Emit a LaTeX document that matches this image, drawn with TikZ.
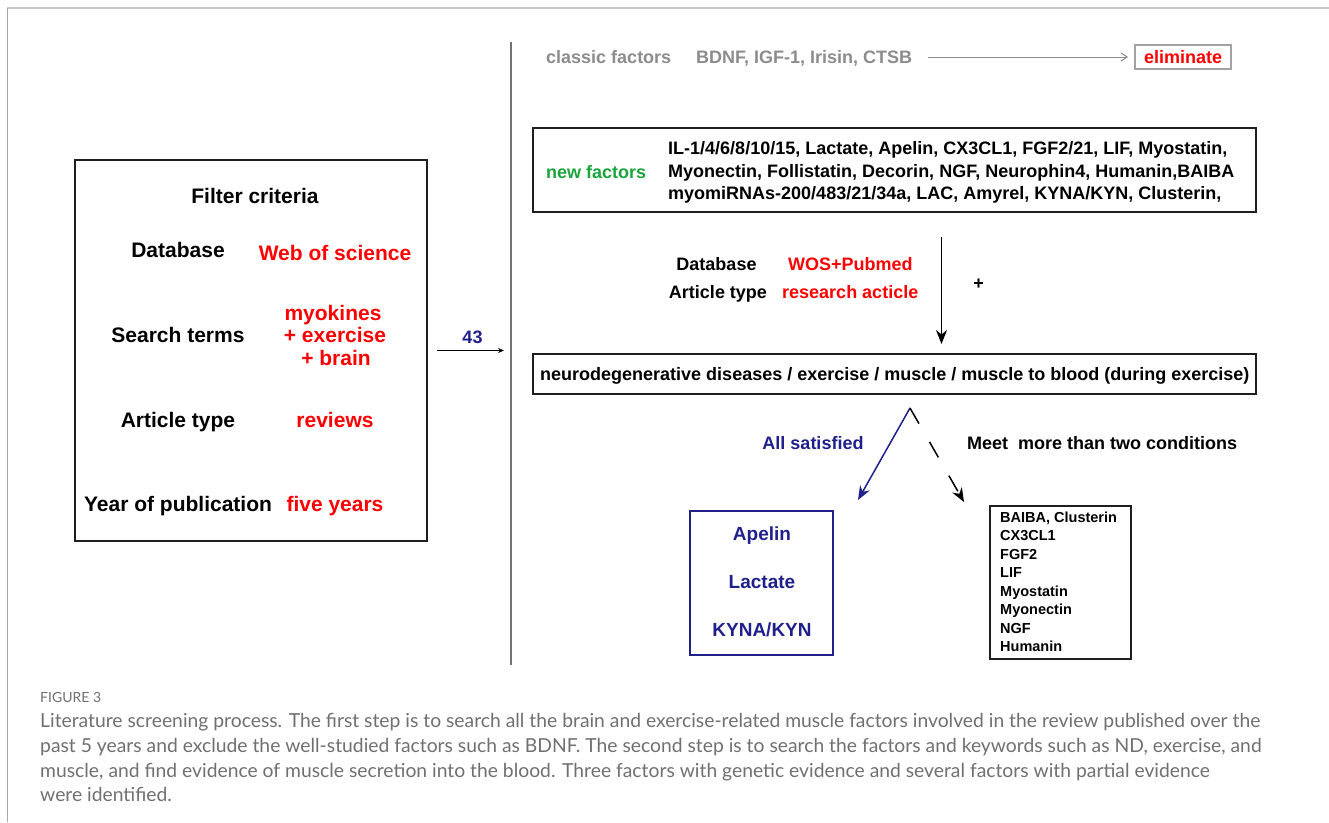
\documentclass[tikz,border=0pt]{standalone}
\usepackage{fontspec}
\setmainfont{Liberation Sans}
\newfontfamily\capfont{Lato}
\usetikzlibrary{arrows.meta}
\definecolor{fred}{RGB}{255,0,0}
\definecolor{fnavy}{RGB}{32,32,140}
\definecolor{fgreen}{RGB}{25,165,60}
\definecolor{fgray}{RGB}{140,140,140}
\definecolor{capgray}{RGB}{112,112,112}
\definecolor{framegray}{RGB}{200,200,200}
\tikzset{
  txbig/.style={inner sep=0pt, anchor=base, font=\fontsize{21}{25}\selectfont\bfseries},
  txmid/.style={inner sep=0pt, anchor=base, font=\fontsize{18}{22}\selectfont\bfseries},
  txsml/.style={inner sep=0pt, anchor=base west, font=\fontsize{14.5}{18}\selectfont\bfseries},
  txcap/.style={inner sep=0pt, anchor=base west, text=capgray, font=\capfont\fontsize{19.3}{22}\selectfont},
  boxk/.style={draw=black!88, line width=1.5pt, inner sep=0pt},
}
\begin{document}
\begin{tikzpicture}[x=1pt,y=-1pt]
\useasboundingbox (0,0) rectangle (1329,822);
\fill[white] (0,0) rectangle (1329,822);
% outer frame
\draw[framegray, line width=1.5pt] (7,8) -- (1329,8);
\draw[black!35, line width=1pt] (7,8) -- (7,822);

% left filter box
\node[boxk, minimum width=352pt, minimum height=381pt] (filter) at (251,350.5) {};
\node[txbig] (fc) at (255,203) {Filter criteria};
\node[txbig] (db) at (178,257) {Database};
\node[txbig, text=fred] (wos) at (335,260) {Web of science};
\node[txbig] (st) at (178,342) {Search terms};
\node[txbig, text=fred] (st1) at (333,320) {myokines};
\node[txbig, text=fred] (st2) at (335,342) {+ exercise};
\node[txbig, text=fred] (st3) at (336,365) {+ brain};
\node[txbig] (at) at (178,427) {Article type};
\node[txbig, text=fred] (rev) at (335,427) {reviews};
\node[txbig] (yp) at (178,511) {Year of publication};
\node[txbig, text=fred] (fy) at (335,511) {five years};

% 43 arrow
\coordinate (a43s) at (437,350.5);
\coordinate (a43e) at (504,350.5);
\draw[-{Stealth[length=6pt,width=5pt]}, line width=0.8pt] (a43s) -- (a43e);
\node[txmid, text=fnavy] (n43) at (472.5,343) {43};

% divider
\coordinate (dv1) at (511,42);
\coordinate (dv2) at (511,665);
\draw[black!55, line width=1.3pt] (dv1) -- (dv2);

% classic row
\node[txmid, anchor=base west, text=fgray] (cf) at (546,63) {classic factors};
\node[txmid, anchor=base west, text=fgray] (cl) at (696,63) {BDNF, IGF-1, Irisin, CTSB};
\node[draw=fgray!80, line width=1.5pt, minimum width=96pt, minimum height=24pt, inner sep=0pt] (elim) at (1183,57) {};
\node[txmid, text=fred] (elimt) at (1183,63) {eliminate};
\coordinate (cla) at (928,57);
\coordinate (clb) at (1128,57);
\draw[fgray, line width=1pt, -{Straight Barb[length=6pt,width=8pt]}] (cla) -- (clb);

% new factors box
\node[boxk, minimum width=723pt, minimum height=84pt] (newbox) at (894.5,170) {};
\node[txmid, anchor=base west, text=fgreen] (nf) at (546,178) {new factors};
\node[txmid, anchor=base west] (l1) at (668,154.5) {IL-1/4/6/8/10/15, Lactate, Apelin, CX3CL1, FGF2/21, LIF, Myostatin,};
\node[txmid, anchor=base west] (l2) at (668,177) {Myonectin, Follistatin, Decorin, NGF, Neurophin4, Humanin,BAIBA};
\node[txmid, anchor=base west] (l3) at (668,199.5) {myomiRNAs-200/483/21/34a, LAC, Amyrel, KYNA/KYN, Clusterin,};

% second database criteria
\node[txmid] (db2) at (716.5,270) {Database};
\node[txmid, anchor=base west, text=fred] (wp) at (788,270) {WOS+Pubmed};
\node[txmid] (at2) at (718,298.5) {Article type};
\node[txmid, anchor=base west, text=fred] (ra) at (782,298.5) {research acticle};
\node[txmid] (plus) at (978.5,289) {+};

% main box
\node[boxk, minimum width=723pt, minimum height=40pt] (mainbox) at (894.5,374) {};
\node[txmid, anchor=base west] (mt) at (540,380.5) {neurodegenerative diseases / exercise / muscle / muscle to blood (during exercise)};

\coordinate (dtop) at (941.5,236.5);
\coordinate (dbot) at (941.5,344);
\draw[line width=1.2pt, -{Stealth[length=14pt,width=11pt]}] (dtop) -- (dbot);

% split
\coordinate (apex) at (910,408);
\coordinate (btip) at (858,500);
\coordinate (ktip) at (964,502);
\draw[fnavy, line width=1.5pt, -{Stealth[length=14pt,width=11pt]}] (apex) -- (btip);
\draw[black, line width=1.5pt, dash pattern=on 18pt off 21pt, -{Stealth[length=14pt,width=11pt]}] (apex) -- (ktip);
\node[txmid, text=fnavy] (as) at (813,449.5) {All satisfied};
\node[txmid, anchor=base west] (mm) at (967,449.5) {Meet\ \ more than two conditions};

% result boxes
\node[draw=fnavy, line width=1.5pt, minimum width=143pt, minimum height=144pt, inner sep=0pt] (bluebox) at (761.5,583) {};
\node[txmid, text=fnavy, font=\fontsize{19}{22}\selectfont\bfseries] (r1) at (762,540) {Apelin};
\node[txmid, text=fnavy, font=\fontsize{19}{22}\selectfont\bfseries] (r2) at (762,588) {Lactate};
\node[txmid, text=fnavy, font=\fontsize{19}{22}\selectfont\bfseries] (r3) at (762,636) {KYNA/KYN};

\node[boxk, minimum width=141pt, minimum height=153pt] (blackbox) at (1060.5,582.5) {};
\node[txsml] (k1) at (1000,522) {BAIBA, Clusterin};
\node[txsml] (k2) at (1000,540.5) {CX3CL1};
\node[txsml] (k3) at (1000,559) {FGF2};
\node[txsml] (k4) at (1000,577.5) {LIF};
\node[txsml] (k5) at (1000,596) {Myostatin};
\node[txsml] (k6) at (1000,614.5) {Myonectin};
\node[txsml] (k7) at (1000,633) {NGF};
\node[txsml] (k8) at (1000,651.5) {Humanin};

% caption
\node[txcap, font=\capfont\fontsize{14}{16}\selectfont] (fig) at (40,702) {FIGURE 3};
\node[txcap] (c1) at (40,727) {Literature screening process. The first step is to search all the brain and exercise-related muscle factors involved in the review published over the};
\node[txcap] (c2) at (40,752) {past 5 years and exclude the well-studied factors such as BDNF. The second step is to search the factors and keywords such as ND, exercise, and};
\node[txcap] (c3) at (40,777) {muscle, and find evidence of muscle secretion into the blood. Three factors with genetic evidence and several factors with partial evidence};
\node[txcap] (c4) at (40,801) {were identified.};
\end{tikzpicture}
\end{document}
